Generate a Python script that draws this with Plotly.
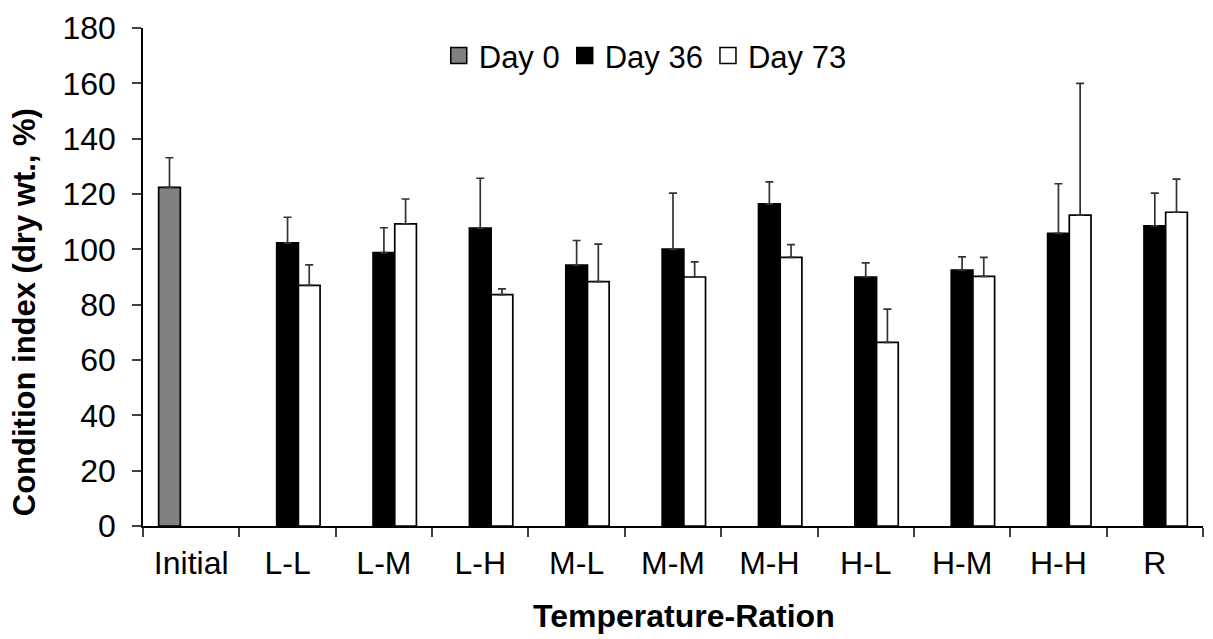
import plotly.graph_objects as go

categories = ["Initial", "L-L", "L-M", "L-H", "M-L", "M-M", "M-H", "H-L", "H-M", "H-H", "R"]

day0 = [122.4, None, None, None, None, None, None, None, None, None, None]
day0_err = [10.7, 0, 0, 0, 0, 0, 0, 0, 0, 0, 0]

day36 = [None, 102.3, 98.8, 107.7, 94.3, 100.1, 116.4, 90.0, 92.5, 105.8, 108.5]
day36_err = [0, 9.3, 9.0, 18.0, 8.9, 20.2, 8.0, 5.1, 4.8, 17.9, 11.8]

day73 = [None, 87.0, 109.2, 83.6, 88.3, 90.0, 97.1, 66.4, 90.2, 112.4, 113.4]
day73_err = [0, 7.4, 9.0, 2.1, 13.6, 5.5, 4.6, 12.0, 6.9, 47.6, 12.0]

series_names = ["Day 0", "Day 36", "Day 73"]
series_colors = ["#808080", "#000000", "#ffffff"]

FONT = "Liberation Sans, Arial, sans-serif"
ERR_COLOR = "#333333"

def err(vals):
    return dict(type="data", array=vals, arrayminus=[0] * len(vals), symmetric=False,
                color=ERR_COLOR, thickness=1.7, width=4)

fig = go.Figure()
for name, vals, errs, col in zip(series_names, [day0, day36, day73],
                                 [day0_err, day36_err, day73_err], series_colors):
    fig.add_trace(go.Bar(name=name, x=categories, y=vals, error_y=err(errs), showlegend=False,
                         legendgroup=name,
                         marker=dict(color=col, line=dict(color="#000000", width=1.7))))
# legend swatches (larger squares like the original)
for name, col in zip(series_names, series_colors):
    fig.add_trace(go.Scatter(name=name, x=[None], y=[None], mode="markers", legendgroup=name,
                             marker=dict(symbol="square", size=16, color=col,
                                         line=dict(color="#000000", width=1.5)),
                             showlegend=True, hoverinfo="skip"))

fig.update_layout(
    width=1213, height=639,
    margin=dict(l=143, r=10, t=28, b=113),
    paper_bgcolor="white", plot_bgcolor="white",
    barmode="group", bargap=0.325, bargroupgap=0,
    font=dict(family=FONT, size=32, color="black"),
    showlegend=True,
    legend=dict(orientation="h", x=0.279, xanchor="left", y=0.944, yanchor="middle",
                font=dict(size=31), bgcolor="rgba(0,0,0,0)", itemwidth=30,
                traceorder="normal", tracegroupgap=0),
    annotations=[
        dict(text="<b>Condition index (dry wt., %)</b>", textangle=-90,
             xref="paper", yref="paper", x=-0.111, y=0.43, xanchor="center", yanchor="middle",
             showarrow=False, font=dict(size=31, family=FONT)),
        dict(text="<b>Temperature-Ration</b>",
             xref="paper", yref="paper", x=0.510, y=-0.180, xanchor="center", yanchor="middle",
             showarrow=False, font=dict(size=32, family=FONT)),
    ],
)

fig.update_xaxes(
    type="category", tickson="boundaries", ticks="outside", ticklen=9, tickwidth=1.5,
    tickcolor="#404040", showline=True, linecolor="black", linewidth=1.5,
    showgrid=False, zeroline=False, tickfont=dict(size=32), ticklabelstandoff=8,
)
fig.update_yaxes(
    range=[0, 180], dtick=20, ticks="outside", ticklen=9, tickwidth=1.5,
    tickcolor="#404040", showline=True, linecolor="black", linewidth=1.5,
    showgrid=False, zeroline=False, tickfont=dict(size=32), ticklabelstandoff=10,
)

fig.write_html("out.html")
